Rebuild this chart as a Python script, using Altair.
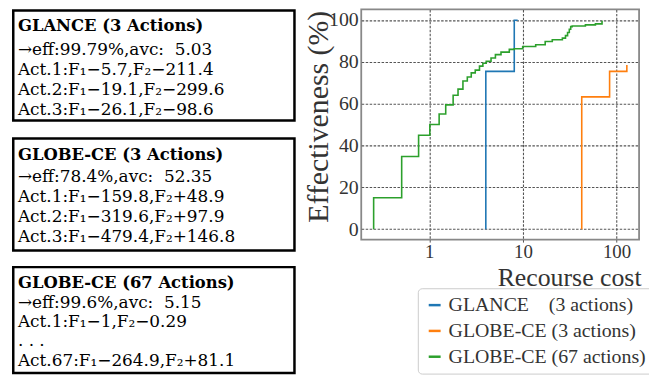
import altair as alt
import pandas as pd

# ---- data ----
series_names = ["GLANCE\u00a0\u00a0\u00a0 (3 actions)", "GLOBE-CE (3 actions)", "GLOBE-CE (67 actions)"]
series_colors = ["#1f77b4", "#ff7f0e", "#2ca02c"]

glance_cost = [4.02, 4.02, 8.09, 8.8]
glance_eff = [0, 75.4, 99.79, 99.79]

globe3_cost = [42.5, 42.5, 84.3, 128.8]
globe3_eff = [0, 63.2, 75.4, 78.4]

globe67_cost = [0.255, 0.255, 0.508, 0.77, 1.015, 1.276, 1.50, 1.80, 2.03, 2.29, 2.55,
                2.81, 3.10, 3.44, 3.74, 4.06, 4.57, 5.09, 5.84, 7.16, 8.08, 9.95, 13.7,
                17.3, 20.6, 26.4, 28.5, 30.0, 31.3, 32.4, 33.6, 46.5, 59.5, 70.0]
globe67_eff = [0, 15.0, 34.7, 44.9, 50.0, 55.0, 59.4, 64.0, 66.9, 70.8, 72.7,
               74.7, 76.0, 77.9, 79.3, 80.2, 81.8, 83.4, 84.6, 85.9, 86.2, 87.3, 88.1,
               89.7, 90.5, 91.3, 92.5, 94.0, 95.5, 96.8, 97.1, 97.6, 98.1, 99.6]

x_ticks = [1, 10, 100]
y_ticks = [0, 20, 40, 60, 80, 100]

box1_title = "GLANCE (3 Actions)"
box1_lines = ["\u2192eff:99.79%,avc:\u00a0 5.03",
              "Act.1:F\u2081\u22125.7,F\u2082\u2212211.4",
              "Act.2:F\u2081\u221219.1,F\u2082\u2212299.6",
              "Act.3:F\u2081\u221226.1,F\u2082\u221298.6"]
box2_title = "GLOBE-CE (3 Actions)"
box2_lines = ["\u2192eff:78.4%,avc:\u00a0 52.35",
              "Act.1:F\u2081\u2212159.8,F\u2082+48.9",
              "Act.2:F\u2081\u2212319.6,F\u2082+97.9",
              "Act.3:F\u2081\u2212479.4,F\u2082+146.8"]
box3_title = "GLOBE-CE (67 Actions)"
box3_lines = ["\u2192eff:99.6%,avc:\u00a0 5.15",
              "Act.1:F\u2081\u22121,F\u2082\u22120.29",
              ". . .",
              "Act.67:F\u2081\u2212264.9,F\u2082+81.1"]

rows = []
for name, cs, es in [(series_names[0], glance_cost, glance_eff),
                     (series_names[1], globe3_cost, globe3_eff),
                     (series_names[2], globe67_cost, globe67_eff)]:
    for i, (c, e) in enumerate(zip(cs, es)):
        rows.append({"method": name, "cost": c, "eff": e, "order": i})
df = pd.DataFrame(rows)

SERIF = "Liberation Serif"
BOXFONT = "DejaVu Serif"

lines = alt.Chart(df).mark_line(interpolate="step-after", strokeWidth=1.6).encode(
    x=alt.X("cost:Q",
            scale=alt.Scale(type="log", domain=[0.188, 174], nice=False),
            axis=alt.Axis(values=x_ticks, format="~g", title="Recourse cost",
                          grid=True, gridColor="#555", gridDash=[2.5, 1.5], gridWidth=1.1,
                          domain=False, ticks=True, tickSize=3, tickColor="#555",
                          tickDash=[2.5, 1.5], labelFont=SERIF, labelFontSize=19,
                          labelColor="#333", labelPadding=0,
                          titleFont=SERIF, titleFontSize=26, titleFontWeight="normal",
                          titleColor="#333", titleX=282, titleY=46,
                          titleAlign="right", titleBaseline="alphabetic")),
    y=alt.Y("eff:Q",
            scale=alt.Scale(domain=[-5, 105], nice=False, zero=False),
            axis=alt.Axis(values=y_ticks, title="Effectiveness (%)",
                          grid=True, gridColor="#555", gridDash=[2.5, 1.5], gridWidth=1.1,
                          domain=False, ticks=False, labelFont=SERIF, labelFontSize=20,
                          labelColor="#333", labelPadding=3,
                          titleFont=SERIF, titleFontSize=30, titleFontWeight="normal",
                          titleColor="#333", titleX=-43, titleY=1, titleAngle=270,
                          titleAlign="right", titleBaseline="middle")),
    color=alt.Color("method:N",
                    scale=alt.Scale(domain=series_names, range=series_colors),
                    legend=alt.Legend(title=None, orient="none", legendX=57, legendY=281,
                                      padding=7, strokeColor="#ccc", cornerRadius=4,
                                      fillColor="white", labelFont=SERIF, labelFontSize=20,
                                      labelColor="#333", symbolType="stroke",
                                      symbolSize=144, symbolStrokeWidth=2.5,
                                      rowPadding=6, labelOffset=4, labelLimit=400)),
    order="order:Q",
)

one = pd.DataFrame({"k": [0]})
layers = [lines]

# annotation boxes (chart x = page x - 364, chart y = page y - 8)
boxes = [
    (box1_title, box1_lines, 1.0, 112.0, 17.0, [40.5, 60.8, 81.1, 101.4]),
    (box2_title, box2_lines, 130.0, 243.0, 147.0, [168.7, 189.0, 209.3, 229.6]),
    (box3_title, box3_lines, 259.7, 366.3, 275.3, [295.5, 315.5, 334.5, 354.5]),
]
for title, body, top, bottom, ty, lys in boxes:
    layers.append(alt.Chart(one).mark_rect(fill="white", stroke="black", strokeWidth=2.5).encode(
        x=alt.value(-350.7), x2=alt.value(-67.3), y=alt.value(top), y2=alt.value(bottom)))
    layers.append(alt.Chart(one).mark_text(text=title, font=BOXFONT, fontSize=16.5, fontWeight="bold",
                                           align="left", baseline="middle", color="black").encode(
        x=alt.value(-346), y=alt.value(ty)))
    for line, ly in zip(body, lys):
        layers.append(alt.Chart(one).mark_text(text=line, font=BOXFONT, fontSize=17,
                                               align="left", baseline="middle", color="black").encode(
            x=alt.value(-346), y=alt.value(ly)))

chart = alt.layer(*layers).properties(
    width=280, height=232,
    autosize=alt.AutoSizeParams(type="none"),
    padding={"left": 356, "top": 0, "right": 10, "bottom": 137},
    background="white",
).configure_view(stroke="#888", strokeWidth=1.8)

chart.save("out.html", embed_options={"renderer": "svg", "actions": False})
